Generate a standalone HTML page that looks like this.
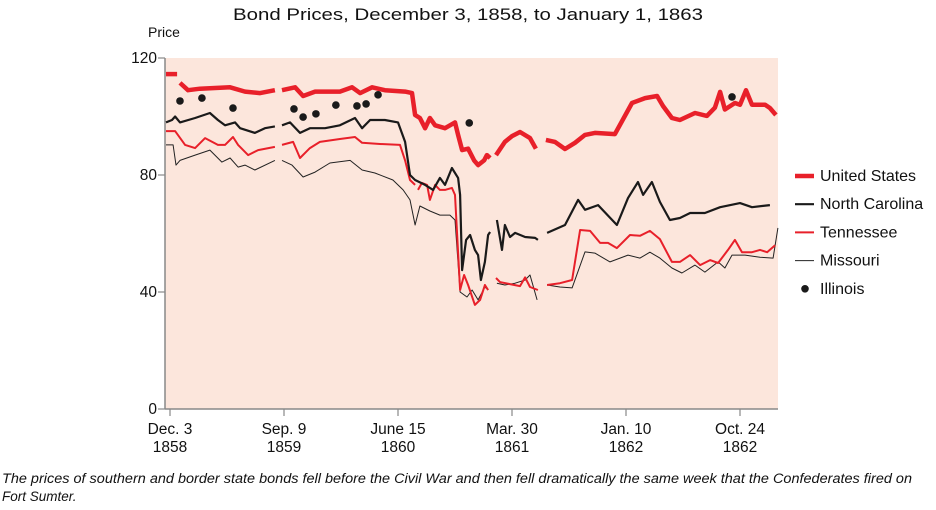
<!DOCTYPE html>
<html><head><meta charset="utf-8"><style>
body{margin:0;background:#fff;}
svg{display:block;font-family:"Liberation Sans",sans-serif;}
</style></head><body>
<svg width="936" height="510" viewBox="0 0 936 510">
<text x="233" y="20" textLength="470" lengthAdjust="spacingAndGlyphs" font-size="17" fill="#111">Bond Prices, December 3, 1858, to January 1, 1863</text>
<text x="148" y="37" font-size="14" fill="#111">Price</text>
<rect x="165" y="58" width="613" height="351" fill="#fce6dc"/>
<g id="axes"></g>
<g id="series"></g>
<g id="legend"></g>
<text x="2" y="483" textLength="910" lengthAdjust="spacingAndGlyphs" font-size="13.5" font-style="italic" fill="#111">The prices of southern and border state bonds fell before the Civil War and then fell dramatically the same week that the Confederates fired on</text>
<text x="2" y="501" font-size="13.5" font-style="italic" fill="#111">Fort Sumter.</text>
</svg>
<script>
const yTicks=[0,40,80,120];
const xTickWeeks=[0,40,80,120,160,200];
const xTickLabels=[["Dec. 3","1858"],["Sep. 9","1859"],["June 15","1860"],["Mar. 30","1861"],["Jan. 10","1862"],["Oct. 24","1862"]];
const usData=[[[-1.4,114.5],[2.5,114.5]],
[[3.5,111.5],[6.3,109],[10.5,109.5],[21.1,110],[26.3,108.5],[31.6,108],[36.8,109]],
[[39.3,109],[43.9,110],[46.7,107],[50.9,108.5],[59.6,108.5],[63.9,110],[66.7,108],[70.9,110],[75.4,109],[82.5,108.5],[84.9,108],[86,100.5],[87.7,99.5],[89.5,96],[91.2,99.5],[93,97],[96.5,96],[100,98],[101.1,93.7],[102.5,88.5],[104.6,89],[106.7,85],[108.1,83.4],[110.2,85],[111.2,86.8],[112.3,85.8]],
[[114.4,86.8],[117.5,91.3],[120,93.3],[122.8,94.7],[126.3,92.6],[128.4,89]],
[[131.9,92],[135.1,91.3],[138.6,88.9],[142.1,91],[145.6,93.7],[149.1,94.4],[156.1,94],[162.1,104.6],[166.7,106.3],[170.9,107],[173,103.6],[176.1,99.5],[178.9,98.8],[184.2,101.2],[188.4,100.2],[191.2,103],[193,108.4],[194.7,102.4],[198.2,104.6],[200,104],[202.1,109],[204.2,104],[208.8,104],[210.5,102.9],[212.6,100.5]]];
const ncData=[[[-1.4,98],[0.7,98.8],[1.8,100],[3.5,98],[8.8,99.5],[14,101.2],[16.8,98.8],[19.3,97],[22.8,98],[24.6,96],[29.8,94.4],[33.3,96],[36.8,96.6]],
[[39.3,97],[42.1,98],[45.6,94.4],[49.1,96],[54.4,96],[59.6,97],[64.9,99.5],[67.4,96],[70.2,98.8],[75.4,98.8],[80,98],[82.5,91.3],[84.2,80],[86,78.3],[89.5,76.6],[92.3,74.9],[94.7,79],[96.5,76.6],[98.9,82.4],[101.1,79],[101.8,73.2],[102.5,47.5],[103.9,57.8],[105.3,59.5],[107,54.4],[108.1,52.6],[109.1,44.1],[110.5,50.3],[111.6,59.5],[112.3,60.5]],
[[114.7,64.6],[116.5,54.4],[117.5,62.9],[119.3,58.8],[121.1,60.2],[124.6,58.8],[128.1,58.5],[129.1,57.8]],
[[132.3,60.2],[138.6,62.9],[143.2,71.5],[145.6,68.1],[150.2,69.7],[156.8,62.9],[160.7,72.1],[164.2,77.6],[166,73.2],[169.1,77.6],[171.9,70.8],[175.4,64.6],[178.9,65.3],[182.5,67],[187.7,67],[193,69],[200,70.4],[204.2,69],[210.5,69.7]]];
const tnData=[[[-1.4,95],[1.8,95],[5.3,90.3],[8.8,89.2],[12.3,92.6],[16.8,90.3],[19.3,90.3],[22.1,93],[23.9,90.3],[27.4,86.8],[30.9,88.5],[36.8,89.6]],
[[39.3,90.3],[43.2,91.3],[45.6,85.8],[49.1,89.2],[52.6,91.3],[59.6,92.3],[64.9,93],[67.4,91],[73.7,90.6],[80.7,90.3],[82.5,85],[84.2,78.3],[86,76.6]],
[[87,74.9],[88.4,77.3],[90.2,76.6],[91.2,71.5],[93,76.6],[94.7,74.9],[96.5,74.9],[98.9,75.6],[100,73.2],[101.8,40.7],[103.2,45.8],[104.6,42.4],[107,35.6],[108.8,37.3],[110.5,42.4],[111.6,40.7]],
[[114.4,44.8],[115.8,43.4],[119.3,42.7],[122.8,42],[124.6,45],[126.3,41.7],[129.1,40.7]],
[[132.3,42.4],[136.8,43],[141.1,44.1],[143.9,61.2],[147.4,60.9],[150.9,56.8],[153.7,56.8],[156.8,55],[161.4,59.5],[164.9,59.2],[168.4,60.9],[171.9,58.1],[176.1,50.3],[178.9,50.3],[182.5,52.6],[186,49.2],[189.5,50.9],[192.3,49.9],[195.8,54.4],[198.2,57.8],[200.7,53.6],[204.2,53.6],[207,54.4],[209.5,53.6],[212.3,56]]];
const moData=[[[-1.4,90.3],[1.1,90.3],[2.1,83.4],[3.5,85],[8.8,86.8],[14,88.5],[18.2,84.4],[21.1,85.8],[23.9,82.7],[26.3,83.4],[29.8,81.7],[36.8,85]],
[[39.3,85],[42.8,83.4],[46.7,79.3],[50.9,81],[56.1,84.1],[63.2,85],[67.4,81.7],[71.9,80.7],[78.2,78.3],[81.8,74.9],[84.2,71.5],[86,62.9],[87.7,69.4],[91.2,67.7],[94.7,66.3],[98.2,66.3],[100,64.6],[101.8,40],[104.2,38.3],[106,40.7],[108.1,37.3],[110.5,41.7],[111.6,40.7]],
[[114.7,43],[117.5,42.4],[121.1,43],[124.6,44.1],[126.3,45.8],[128.8,37.3]],
[[132.3,42.4],[136.8,41.7],[141.1,41.4],[145.6,53.7],[149.1,53.3],[154.4,50.3],[160.7,52.6],[164.9,51.6],[168.4,53.6],[171.9,51.6],[176.1,48.2],[179.6,46.5],[184.2,49.2],[187.7,46.8],[192.3,50.3],[194.7,48.2],[197.2,52.6],[201.8,52.6],[207,51.9],[211.6,51.6],[213.3,61.9]]];
const ilData=[[3.5,105.3],[11.2,106.3],[22.1,102.9],[43.5,102.6],[46.7,99.8],[51.2,100.9],[58.2,103.9],[65.6,103.6],[68.8,104.3],[73,107.4],[105,97.8],[197.2,106.7]];
const seriesNames=["United States","North Carolina","Tennessee","Missouri","Illinois"];

const NS="http://www.w3.org/2000/svg";
const X0=170,XW=2.85,Y0=409,YK=351/120;
function xs(w){return X0+w*XW;}
function ys(v){return Y0-v*YK;}
function mk(tag,attrs,parent){const e=document.createElementNS(NS,tag);for(const k in attrs)e.setAttribute(k,attrs[k]);parent.appendChild(e);return e;}
const axes=document.getElementById('axes');
let a=mk('line',{x1:165,y1:58,x2:165,y2:409,stroke:'#888','stroke-width':1.5},axes);


a=mk('line',{x1:165,y1:409,x2:778,y2:409,stroke:'#888','stroke-width':1.5},axes);


yTicks.forEach(v=>{
 const t=mk('line',{x1:158,y1:ys(v),x2:165,y2:ys(v),stroke:'#888','stroke-width':1.2},axes);
 
 
 const l=mk('text',{x:157,y:ys(v)+5,'text-anchor':'end','font-size':15.5,fill:'#111'},axes);
 l.textContent=v;
 
 
});
xTickWeeks.forEach((w,i)=>{
 const t=mk('line',{x1:xs(w),y1:409,x2:xs(w),y2:416,stroke:'#888','stroke-width':1.2},axes);
 
 
 xTickLabels[i].forEach((s,j)=>{
  const l=mk('text',{x:xs(w),y:434+j*18,'text-anchor':'middle','font-size':15.5,fill:'#111'},axes);
  l.textContent=s;
  
  
 });
});
const ser=document.getElementById('series');
function drawLine(data,color,width,name){
 data.forEach(seg=>{
  const p=mk('path',{d:seg.map((pt,i)=>(i?'L':'M')+xs(pt[0]).toFixed(1)+','+ys(pt[1]).toFixed(1)).join(''),fill:'none',stroke:color,'stroke-width':width,'stroke-linejoin':'round'},ser);
  
  
 });
}
drawLine(moData,'#222',1,'missouri-line');
drawLine(tnData,'#e8202a',2,'tennessee-line');
drawLine(ncData,'#1a1a1a',2.2,'north-carolina-line');
drawLine(usData,'#e8202a',4.5,'united-states-line');
ilData.forEach(pt=>{
 const c=mk('circle',{cx:xs(pt[0]),cy:ys(pt[1]),r:3.8,fill:'#1a1a1a'},ser);
 
 
});
const lg=document.getElementById('legend');
const styles=[['#e8202a',4.5],['#1a1a1a',2.2],['#e8202a',2],['#222',1],null];
seriesNames.forEach((n,i)=>{
 const y=176+i*28.2;
 if(styles[i]){
  const l=mk('line',{x1:795,y1:y,x2:814,y2:y,stroke:styles[i][0],'stroke-width':styles[i][1]},lg);
  
  
 } else {
  const c=mk('circle',{cx:805,cy:y,r:3.8,fill:'#1a1a1a'},lg);
  
  
 }
 const t=mk('text',{x:820,y:y+5,'font-size':16,fill:'#111'},lg);
 t.textContent=n;
 
 
});
</script>
</body></html>
